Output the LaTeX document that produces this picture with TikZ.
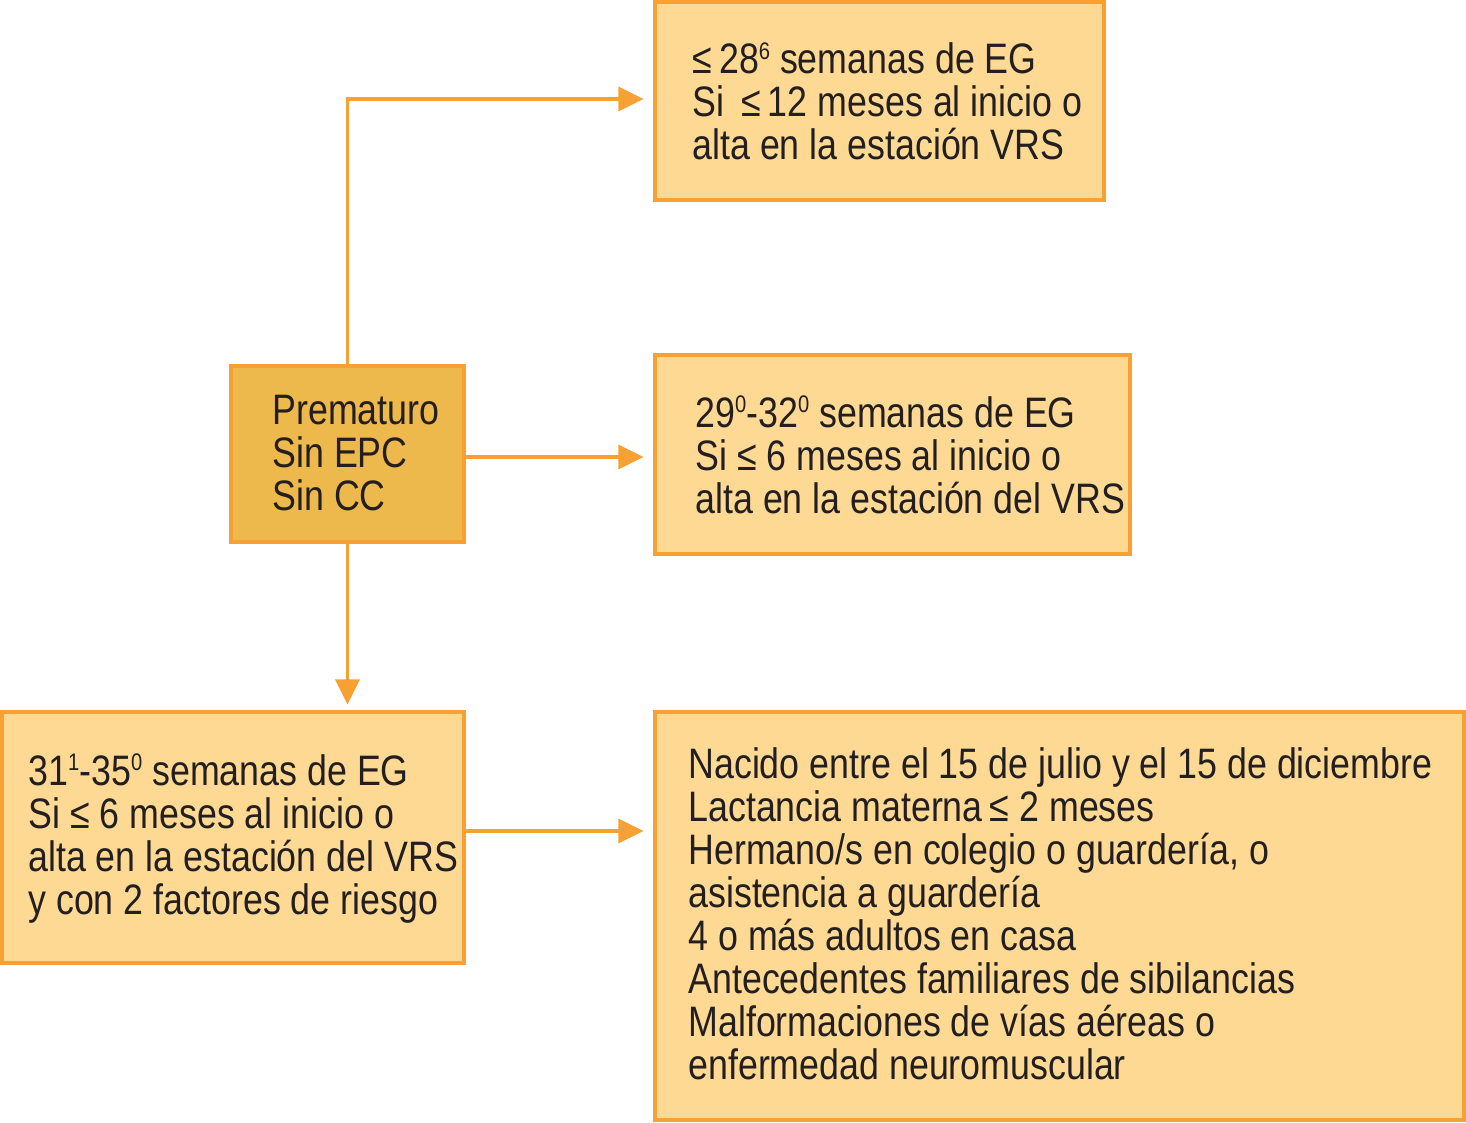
\documentclass[tikz,border=0pt]{standalone}
\usepackage{fontspec}
\setmainfont{Liberation Sans}[FakeStretch=0.84]
\usetikzlibrary{arrows.meta,calc}
\definecolor{edgeor}{HTML}{F7A033}
\definecolor{boxfill}{HTML}{FDD993}
\definecolor{darkfill}{HTML}{EDB94C}
\definecolor{txt}{HTML}{231F20}
\newcommand{\sups}[1]{\raisebox{0.33em}{\fontsize{12}{12}\selectfont #1}}
\begin{document}
\begin{tikzpicture}[x=0.5pt,y=-0.5pt,
  box/.style={draw=edgeor,line width=1.6pt,fill=boxfill,rectangle,inner sep=0pt},
  dbox/.style={box,fill=darkfill},
  lbl/.style={anchor=base west,align=left,inner sep=0pt,text=txt,font=\fontsize{21.3}{21.5}\selectfont},
  arr/.style={draw=edgeor,line width=1.6pt,-{Triangle[length=12.5pt,width=12pt]}}]
\useasboundingbox (0,0) rectangle (1466,1123);
\node[box,minimum width=224.5pt,minimum height=99pt] (A) at (879.5,101) {};
\node[box,minimum width=237.5pt,minimum height=99.5pt] (B) at (892.5,454.5) {};
\node[dbox,minimum width=116.5pt,minimum height=88pt] (P) at (347.5,454) {};
\node[box,minimum width=231pt,minimum height=125.5pt] (C) at (233,837.5) {};
\node[box,minimum width=404.5pt,minimum height=204pt] (D) at (1059.5,916) {};

\node[lbl] (tA) at (692,160) {≤\,28\sups{6} semanas de EG\\Si \,≤\,12 meses al inicio o\\alta en la estación VRS};
\node[lbl] (tB) at (695,513) {29\sups{0}-32\sups{0} semanas de EG\\Si ≤ 6 meses al inicio o\\alta en la estación del VRS};
\node[lbl] (tP) at (272,510) {Prematuro\\Sin EPC\\Sin CC};
\node[lbl] (tC) at (28,914) {31\sups{1}-35\sups{0} semanas de EG\\Si ≤ 6 meses al inicio o\\alta en la estación del VRS\\y con 2 factores de riesgo};
\node[lbl] (tD) at (688,1079) {Nacido entre el 15 de julio y el 15 de diciembre\\Lactancia materna\,≤ 2 meses\\Hermano/s en colegio o guardería, o\\asistencia a guardería\\4 o más adultos en casa\\Antecedentes familiares de sibilancias\\Malformaciones de vías aéreas o\\enfermedad neuromuscular};

\coordinate (eA) at ($(A.west)+(-10,-2)$);
\draw[arr] (P.north) |- (eA);
\coordinate (sB) at ($(P.east)+(0,3)$);
\coordinate (eB) at ($(B.west |- sB)+(-10,0)$);
\draw[arr] (sB) -- (eB);
\coordinate (eC) at ($(P.south |- C.north)+(0,-6)$);
\draw[arr] (P.south) -- (eC);
\coordinate (sD) at ($(C.east)+(0,-6.5)$);
\coordinate (eD) at ($(sD -| D.west)+(-10,0)$);
\draw[arr] (sD) -- (eD);
\end{tikzpicture}
\end{document}
